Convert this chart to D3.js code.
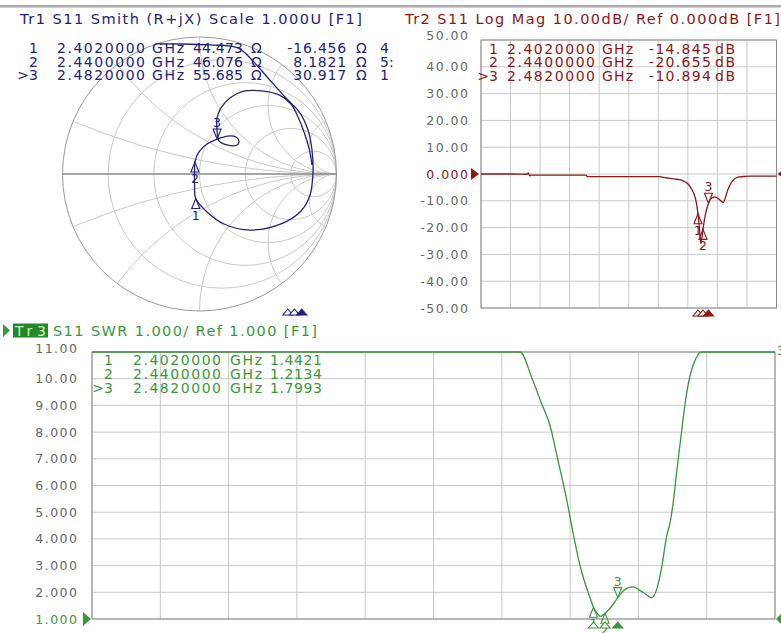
<!DOCTYPE html>
<html>
<head>
<meta charset="utf-8">
<script src="https://cdn.jsdelivr.net/npm/d3@7"></script>
<style>
  html, body { margin: 0; padding: 0; background: #fff; }
  svg { display: block; font-family: "DejaVu Sans", Verdana, sans-serif; }
</style>
</head>
<body>
<svg id="chart" width="781" height="633"></svg>
<script>
// sweep, GHz
const freqStart = 0.75
const freqStop = 3.0
const freqGHz = [0.75, 1.00, 1.10, 1.11, 1.12, 1.13, 1.55, 1.56, 2.10, 2.16, 2.20, 2.23, 2.26, 2.28, 2.30, 2.315, 2.33, 2.36, 2.37, 2.39, 2.402, 2.41, 2.425, 2.44, 2.46, 2.482, 2.50, 2.53, 2.565, 2.594, 2.61, 2.627, 2.643, 2.656, 2.665, 2.676, 2.692, 2.703, 2.72, 2.76, 2.80, 3.00]
const logMagDb = [0.0, 0.0, -0.1, 0.4, -0.7, -0.4, -0.4, -1.0, -1.0, -1.4, -1.7, -1.9, -2.1, -2.4, -2.8, -3.3, -3.9, -6.2, -7.2, -10.8, -14.845, -18.5, -26.0, -20.655, -14.8, -10.894, -9.2, -8.5, -9.5, -10.6, -9.0, -6.2, -4.4, -3.2, -2.6, -2.0, -1.5, -1.3, -1.1, -0.9, -0.8, -0.8]
const swrVals = [60, 60, 50, 60, 25, 40, 40, 17, 17, 11.0, 10.0, 9.1, 8.2, 7.2, 6.2, 5.4, 4.5, 2.9, 2.5, 1.82, 1.4421, 1.28, 1.10, 1.2134, 1.45, 1.7993, 2.05, 2.2, 2.0, 1.8, 2.1, 2.95, 4.1, 4.7, 5.4, 6.5, 8.0, 9.0, 10.1, 11.3, 14, 16]

// S11 on the Smith chart (reflection coefficient, visible part of the sweep)
const smithRe = [-0.288, -0.142, 0.077, 0.281, 0.383, 0.500, 0.624, 0.734, 0.792, 0.821, 0.828, 0.807, 0.741, 0.609, 0.369, 0.179, 0.055, -0.028, -0.036, -0.036, -0.033, -0.004, 0.055, 0.128, 0.208, 0.266, 0.288, 0.274, 0.201, 0.142, 0.128, 0.128, 0.157, 0.223, 0.332, 0.456, 0.580, 0.668, 0.719, 0.763, 0.799, 0.821]
const smithIm = [0.949, 0.949, 0.942, 0.920, 0.832, 0.701, 0.562, 0.445, 0.321, 0.175, 0.007, -0.153, -0.270, -0.358, -0.409, -0.365, -0.277, -0.179, -0.080, 0.015, 0.088, 0.161, 0.219, 0.255, 0.277, 0.270, 0.241, 0.212, 0.212, 0.241, 0.321, 0.409, 0.482, 0.555, 0.606, 0.606, 0.577, 0.511, 0.416, 0.307, 0.190, 0.066]

// markers
const markerIds = ['1', '2', '>3']
const markerLabels = ['1', '2', '3']
const markerFreq = [2.402, 2.44, 2.482]
const markerFreqText = ['2.4020000', '2.4400000', '2.4820000']
const markerR = [44.473, 46.076, 55.685]
const markerX = [-16.456, 8.1821, 30.917]
const markerRText = ['44.473', '46.076', '55.685']
const markerXText = ['-16.456', '8.1821', '30.917']
const markerExtra = ['4', '5:', '1']
const markerLogMag = [-14.845, -20.655, -10.894]
const markerLogMagText = ['-14.845', '-20.655', '-10.894']
const markerSwr = [1.4421, 1.2134, 1.7993]
const markerSwrText = ['1.4421', '1.2134', '1.7993']

// axes
const logMagTicks = [50, 40, 30, 20, 10, 0, -10, -20, -30, -40, -50]
const logMagTickLabels = ['50.00', '40.00', '30.00', '20.00', '10.00', '0.000', '-10.00', '-20.00', '-30.00', '-40.00', '-50.00']
const swrTicks = [11, 10, 9, 8, 7, 6, 5, 4, 3, 2, 1]
const swrTickLabels = ['11.00', '10.00', '9.000', '8.000', '7.000', '6.000', '5.000', '4.000', '3.000', '2.000', '1.000']
const smithRCircles = [0.2, 0.5, 1, 2, 5]
const smithXArcs = [0.2, 0.5, 1, 2, 5]

const C1 = '#22227e'
const C2 = '#8c1616'
const C3 = '#38983a'
const GRID = '#c9c9c9'
const FRAME = '#8a8a8a'
const TICK = '#666'

const svg = d3.select('#chart')
svg.append('rect').attr('width', 781).attr('height', 633).attr('fill', '#fff')
svg.append('rect').attr('x', 0).attr('y', 5).attr('width', 781).attr('height', 2.5).attr('fill', '#a9a9a9')

const defs = svg.append('defs')

function txt(g, s, x, y, opts = {}) {
  const t = g.append('text').attr('x', x).attr('y', y).text(s)
    .attr('fill', opts.fill || '#000')
    .attr('font-size', opts.size || 14)
    .attr('letter-spacing', opts.ls == null ? 0 : opts.ls)
  if (opts.anchor) t.attr('text-anchor', opts.anchor)
  if (opts.len) t.attr('textLength', opts.len).attr('lengthAdjust', 'spacing')
  return t
}

function tri(g, x, y, up, h, w, color, fill) {
  const d = up
    ? `M${x},${y}L${x - w / 2},${y + h}L${x + w / 2},${y + h}Z`
    : `M${x},${y}L${x - w / 2},${y - h}L${x + w / 2},${y - h}Z`
  g.append('path').attr('d', d).attr('fill', fill || 'none')
    .attr('stroke', color).attr('stroke-width', 1.1)
}

function markerSymbols(g, xs, ys, color) {
  xs.forEach((x, i) => {
    const y = ys[i]
    if (i < 2) {
      tri(g, x, y, true, 10, 8, color)
      txt(g, markerLabels[i], x, y + 21, { fill: color, size: 12.5, anchor: 'middle' })
    } else {
      tri(g, x, y, false, 10, 8, color)
      txt(g, markerLabels[i], x, y - 12, { fill: color, size: 12.5, anchor: 'middle' })
    }
  })
}

function stimulusMarks(g, xs, yTip, color) {
  xs.forEach((x, i) => {
    tri(g, x, yTip, true, 6, 10, color, i === 2 ? color : '#fff')
  })
}

// ---------------- Smith chart ----------------
const cx = 199.5, cy = 174, rad = 137
const sx = d3.scaleLinear().domain([-1, 1]).range([cx - rad, cx + rad])
const sy = d3.scaleLinear().domain([-1, 1]).range([cy + rad, cy - rad])
const smith = svg.append('g')

defs.append('clipPath').attr('id', 'smithClip')
  .append('circle').attr('cx', cx).attr('cy', cy).attr('r', rad)

const sGrid = smith.append('g').attr('clip-path', 'url(#smithClip)')
smithRCircles.forEach(r => {
  sGrid.append('circle')
    .attr('cx', sx(r / (r + 1))).attr('cy', sy(0))
    .attr('r', sx(1 / (r + 1)) - sx(0))
    .attr('fill', 'none').attr('stroke', GRID)
})
smithXArcs.forEach(x => {
  ;[x, -x].forEach(v => {
    sGrid.append('circle')
      .attr('cx', sx(1)).attr('cy', sy(1 / v))
      .attr('r', sx(1 / x) - sx(0))
      .attr('fill', 'none').attr('stroke', GRID)
  })
})
smith.append('circle').attr('cx', cx).attr('cy', cy).attr('r', rad)
  .attr('fill', 'none').attr('stroke', '#9a9a9a')
smith.append('line').attr('x1', sx(-1)).attr('x2', sx(1)).attr('y1', sy(0)).attr('y2', sy(0))
  .attr('stroke', '#8a8a8a').attr('stroke-width', 1.6)

const smithPts = smithRe.map((re, i) => [re, smithIm[i]])
smith.append('path')
  .attr('d', d3.line().x(d => sx(d[0])).y(d => sy(d[1])).curve(d3.curveCatmullRom.alpha(0.5))(smithPts))
  .attr('fill', 'none').attr('stroke', C1).attr('stroke-width', 1.3)

// marker impedance -> gamma
const mkGamma = markerR.map((R, i) => {
  const zr = R / 50, zi = markerX[i] / 50
  const dr = zr + 1, di = zi
  const nr = zr - 1, ni = zi
  const den = dr * dr + di * di
  return [(nr * dr + ni * di) / den, (ni * dr - nr * di) / den]
})
markerSymbols(smith, mkGamma.map(g => sx(g[0])), mkGamma.map(g => sy(g[1])), C1)

const smithStim = d3.scaleLinear().domain([freqStart, freqStop]).range([0, 392])
stimulusMarks(smith, markerFreq.map(f => smithStim(f)), 309, C1)

txt(smith, 'Tr1 S11 Smith (R+jX) Scale 1.000U [F1]', 20, 24, { fill: C1, size: 14.5, len: 342 })
markerIds.forEach((id, i) => {
  const y = 53 + i * 13.5
  txt(smith, id, 38, y, { fill: C1, anchor: 'end' })
  txt(smith, markerFreqText[i], 57, y, { fill: C1, len: 88 })
  txt(smith, 'GHz', 152, y, { fill: C1, len: 32 })
  txt(smith, markerRText[i], 243, y, { fill: C1, anchor: 'end', len: 50 })
  txt(smith, 'Ω', 251, y, { fill: C1 })
  txt(smith, markerXText[i], 347, y, { fill: C1, anchor: 'end', ls: 0.8 })
  txt(smith, 'Ω', 356, y, { fill: C1 })
  txt(smith, markerExtra[i], 380, y, { fill: C1 })
})

// ---------------- Log Mag ----------------
const lm = svg.append('g')
const lx = d3.scaleLinear().domain([freqStart, freqStop]).range([481, 776.5])
const ly = d3.scaleLinear().domain([-50, 50]).range([308, 40])
const divs = d3.range(0, 11).map(i => freqStart + i * (freqStop - freqStart) / 10)

lm.selectAll('.vg').data(divs).enter().append('line')
  .attr('x1', d => lx(d)).attr('x2', d => lx(d)).attr('y1', ly(50)).attr('y2', ly(-50))
  .attr('stroke', GRID)
lm.selectAll('.hg').data(logMagTicks).enter().append('line')
  .attr('x1', lx(freqStart)).attr('x2', lx(freqStop)).attr('y1', d => ly(d)).attr('y2', d => ly(d))
  .attr('stroke', GRID)
lm.append('rect').attr('x', lx(freqStart)).attr('y', ly(50))
  .attr('width', lx(freqStop) - lx(freqStart)).attr('height', ly(-50) - ly(50))
  .attr('fill', 'none').attr('stroke', FRAME)
logMagTicks.forEach((v, i) => {
  txt(lm, logMagTickLabels[i], 469.5, ly(v) + 4.5 - (i === 0 ? 5 : 0),
    { fill: v === 0 ? C2 : TICK, size: 12.5, ls: 1.5, anchor: 'end' })
})
lm.append('path').attr('d', `M${lx(freqStart) - 10},${ly(0) - 6}L${lx(freqStart) - 2},${ly(0)}L${lx(freqStart) - 10},${ly(0) + 6}Z`).attr('fill', C2)
lm.append('path').attr('d', `M${lx(freqStop) + 8},${ly(0) - 5}L${lx(freqStop) + 1},${ly(0)}L${lx(freqStop) + 8},${ly(0) + 5}Z`).attr('fill', C2)

lm.append('path')
  .attr('d', d3.line().x((d, i) => lx(freqGHz[i])).y(d => ly(d)).curve(d3.curveMonotoneX)(logMagDb))
  .attr('fill', 'none').attr('stroke', C2).attr('stroke-width', 1.3)
markerSymbols(lm, markerFreq.map(f => lx(f)), markerLogMag.map(v => ly(v)), C2)
stimulusMarks(lm, markerFreq.map(f => lx(f)), 310, C2)

txt(lm, 'Tr2 S11 Log Mag 10.00dB/ Ref 0.000dB [F1]', 405, 24, { fill: C2, size: 14.5, len: 375 })
markerIds.forEach((id, i) => {
  const y = 54 + i * 13.3
  txt(lm, id, 498, y, { fill: C2, anchor: 'end' })
  txt(lm, markerFreqText[i], 507, y, { fill: C2, len: 88 })
  txt(lm, 'GHz', 602, y, { fill: C2, len: 31 })
  txt(lm, markerLogMagText[i], 711, y, { fill: C2, anchor: 'end', len: 62 })
  txt(lm, 'dB', 715, y, { fill: C2, len: 20 })
})

// ---------------- SWR ----------------
const sw = svg.append('g')
const wx = d3.scaleLinear().domain([freqStart, freqStop]).range([92, 775])
const wy = d3.scaleLinear().domain([1, 11]).range([619, 352]).clamp(true)

sw.selectAll('.vg').data(divs).enter().append('line')
  .attr('x1', d => wx(d)).attr('x2', d => wx(d)).attr('y1', wy(11)).attr('y2', wy(1))
  .attr('stroke', GRID)
sw.selectAll('.hg').data(swrTicks).enter().append('line')
  .attr('x1', wx(freqStart)).attr('x2', wx(freqStop)).attr('y1', d => wy(d)).attr('y2', d => wy(d))
  .attr('stroke', GRID)
sw.append('rect').attr('x', wx(freqStart)).attr('y', wy(11))
  .attr('width', wx(freqStop) - wx(freqStart)).attr('height', wy(1) - wy(11))
  .attr('fill', 'none').attr('stroke', FRAME)
swrTicks.forEach((v, i) => {
  txt(sw, swrTickLabels[i], 78.5, wy(v) + 4.5 - (i === 0 ? 4 : 0),
    { fill: v === 1 ? C3 : TICK, size: 12.5, ls: 1.5, anchor: 'end' })
})
sw.append('path').attr('d', `M${wx(freqStart) - 9},${wy(1) - 7}L${wx(freqStart) - 1},${wy(1)}L${wx(freqStart) - 9},${wy(1) + 7}Z`).attr('fill', C3)
sw.append('path').attr('d', `M${wx(freqStop) + 7},${wy(1) - 6}L${wx(freqStop) + 1},${wy(1)}L${wx(freqStop) + 7},${wy(1) + 6}L${wx(freqStop) + 13},${wy(1)}Z`).attr('fill', C3)
txt(sw, '3', wx(freqStop) + 2, wy(11) + 3, { fill: C3, size: 12 })

sw.append('path')
  .attr('d', d3.line().x((d, i) => wx(freqGHz[i])).y(d => wy(d)).curve(d3.curveMonotoneX)(swrVals))
  .attr('fill', 'none').attr('stroke', C3).attr('stroke-width', 1.3)
markerSymbols(sw, markerFreq.map(f => wx(f)), markerSwr.map(v => wy(v)), C3)
stimulusMarks(sw, markerFreq.map(f => wx(f)), 622, C3)

// title with active trace badge
sw.append('path').attr('d', 'M3,324L10,330.5L3,337Z').attr('fill', C3)
sw.append('rect').attr('x', 13).attr('y', 323.5).attr('width', 35).attr('height', 14).attr('fill', '#22882a')
txt(sw, 'Tr3', 15, 335.5, { fill: '#c8f5c0', size: 14, len: 31 })
txt(sw, 'S11 SWR 1.000/ Ref 1.000 [F1]', 53, 336, { fill: C3, size: 14.5, len: 264 })
markerIds.forEach((id, i) => {
  const y = 365 + i * 14
  txt(sw, id, 113, y, { fill: C3, anchor: 'end' })
  txt(sw, markerFreqText[i], 133, y, { fill: C3, len: 88 })
  txt(sw, 'GHz', 230, y, { fill: C3, len: 32 })
  txt(sw, markerSwrText[i], 270, y, { fill: C3, len: 52 })
})
</script>
</body>
</html>
